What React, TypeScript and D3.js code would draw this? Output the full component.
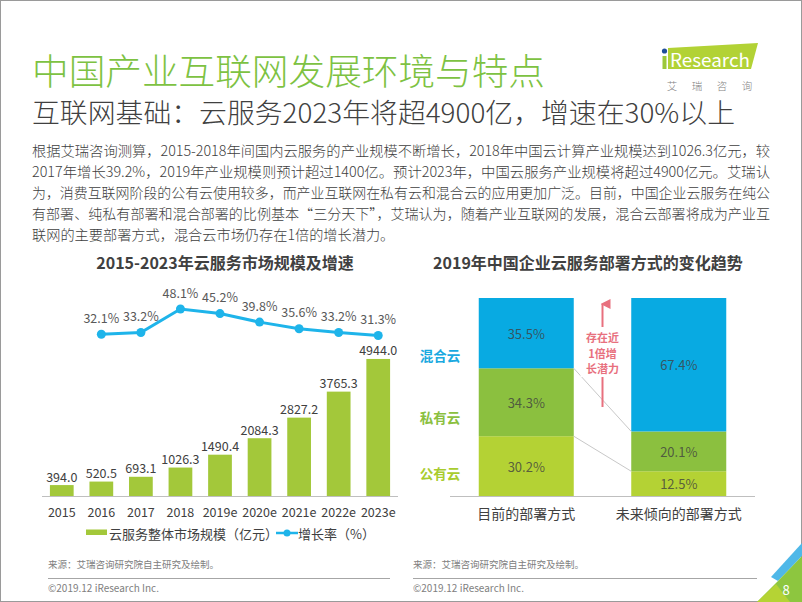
import React from "react";
import * as d3 from "d3";

// ---------- data ----------
const years = ["2015", "2016", "2017", "2018", "2019e", "2020e", "2021e", "2022e", "2023e"];
const marketSize = [394.0, 520.5, 693.1, 1026.3, 1490.4, 2084.3, 2827.2, 3765.3, 4944.0];
const rateYears = ["2016", "2017", "2018", "2019e", "2020e", "2021e", "2022e", "2023e"];
const growthRate = [32.1, 33.2, 48.1, 45.2, 39.8, 35.6, 33.2, 31.3];

const deployCategories = ["目前的部署方式", "未来倾向的部署方式"];
const publicCloud = [30.2, 12.5];
const privateCloud = [34.3, 20.1];
const hybridCloud = [35.5, 67.4];
const seriesNames = ["公有云", "私有云", "混合云"];

const bodyLines = [
  "根据艾瑞咨询测算，2015-2018年间国内云服务的产业规模不断增长，2018年中国云计算产业规模达到1026.3亿元，较",
  "2017年增长39.2%，2019年产业规模则预计超过1400亿。预计2023年，中国云服务产业规模将超过4900亿元。艾瑞认",
  "为，消费互联网阶段的公有云使用较多，而产业互联网在私有云和混合云的应用更加广泛。目前，中国企业云服务在纯公",
  "有部署、纯私有部署和混合部署的比例基本“三分天下”，艾瑞认为，随着产业互联网的发展，混合云部署将成为产业互",
  "联网的主要部署方式，混合云市场仍存在1倍的增长潜力。",
];

// ---------- style ----------
const FONT = "'Noto Sans CJK SC', 'Noto Sans', sans-serif";
const TXT = "#404040";
const BAR = "#A3C83A";
const LINE = "#1EB4EA";
const C_PUB = "#B4D234";
const C_PRI = "#8BC03F";
const C_HYB = "#08AAE2";
const seriesColors = [C_PUB, C_PRI, C_HYB];
const seriesLabelColors = ["#A8CC2E", "#8BC03F", "#1AA9E0"];

export default function App() {
  // left chart scales
  const x = d3.scaleBand<string>().domain(years).range([42, 398]).paddingInner(0.4).paddingOuter(0.2);
  const y = d3.scaleLinear().domain([0, 5000]).range([496, 357.4]);
  const yr = d3.scaleLinear().domain([30, 50]).range([337.6, 306]);
  const cx = (k: string) => (x(k) as number) + x.bandwidth() / 2;
  const rateData = rateYears.map((k, i) => ({ k, v: growthRate[i] }));
  const linePath = d3
    .line<{ k: string; v: number }>()
    .x((d) => cx(d.k))
    .y((d) => yr(d.v))(rateData) as string;

  // right chart scales
  const xb = d3.scaleBand<string>().domain(deployCategories).range([450, 755]).paddingInner(0.377).paddingOuter(0.1885);
  const yb = d3.scaleLinear().domain([0, 100]).range([496, 298]);
  const table = deployCategories.map((c, i) => ({ c, pub: publicCloud[i], pri: privateCloud[i], hyb: hybridCloud[i] }));
  const stack = d3.stack<any>().keys(["pub", "pri", "hyb"])(table);
  const bw = xb.bandwidth();
  const x0 = xb(deployCategories[0]) as number;
  const x1 = xb(deployCategories[1]) as number;
  const arrowX = (x0 + bw + x1) / 2;
  const seriesLabelY = [473, 417, 355];

  return (
    <svg
      width={802}
      height={602}
      style={{ position: "absolute", left: 0, top: 0, fontFamily: FONT }}
    >
      <defs>
        <marker id="ah" viewBox="0 0 10 10" refX="5" refY="2" markerWidth="5" markerHeight="5" orient="auto-start-reverse">
          <path d="M0,10 L5,0 L10,10 Z" fill="#E8707E" />
        </marker>
      </defs>
      <rect x={0} y={0} width={802} height={602} fill="#fff" />
      <rect x={0.5} y={0.5} width={801} height={601} fill="none" stroke="#9a9a9a" />

      {/* header */}
      <text x={32} y={69} fontSize={36} fontWeight={300} fill="#7DC242" dominantBaseline="central" textLength={513} lengthAdjust="spacingAndGlyphs">
        中国产业互联网发展环境与特点
      </text>
      <text x={32} y={111} fontSize={27} fontWeight={300} fill={TXT} dominantBaseline="central" textLength={703} lengthAdjust="spacingAndGlyphs">
        互联网基础：云服务2023年将超4900亿，增速在30%以上
      </text>

      {/* logo */}
      <circle cx={664.5} cy={51} r={2.6} fill="#1F4E99" />
      <rect x={662.5} y={56} width={4} height={13} fill="#9CC83A" />
      <polygon points="668,48 758,43 751,69 668,69" fill="#B2D235" />
      <text x={710} y={59} fontSize={18} fill="#ffffff" textAnchor="middle" dominantBaseline="central" textLength={80} lengthAdjust="spacingAndGlyphs">
        Research
      </text>
      {["艾", "瑞", "咨", "询"].map((c, i) => (
        <text key={c} x={672 + i * 25} y={85} fontSize={10.5} fontWeight={300} fill="#7f7f7f" textAnchor="middle" dominantBaseline="central">
          {c}
        </text>
      ))}

      {/* body text */}
      {bodyLines.map((l, i) => (
        <text
          key={i}
          x={32}
          y={150 + i * 21}
          fontSize={14.2}
          fontWeight={300}
          fill={TXT}
          dominantBaseline="central"
          {...(i < 4 ? { textLength: 738, lengthAdjust: "spacingAndGlyphs" } : {})}
        >
          {l}
        </text>
      ))}

      {/* left chart */}
      <text x={225} y={262} fontSize={16} fontWeight="bold" fill={TXT} textAnchor="middle" dominantBaseline="central">
        2015-2023年云服务市场规模及增速
      </text>
      {years.map((k, i) => (
        <g key={k}>
          <rect x={x(k)} y={y(marketSize[i])} width={x.bandwidth()} height={496 - y(marketSize[i])} fill={BAR} />
          <text x={cx(k)} y={y(marketSize[i]) - 9} fontSize={12.5} fill={TXT} textAnchor="middle" dominantBaseline="central">
            {marketSize[i].toFixed(1)}
          </text>
          <text x={cx(k)} y={511} fontSize={12.5} fill={TXT} textAnchor="middle" dominantBaseline="central">
            {k}
          </text>
        </g>
      ))}
      <line x1={42} x2={398} y1={496.5} y2={496.5} stroke="#BFBFBF" />
      <path d={linePath} fill="none" stroke={LINE} strokeWidth={3} />
      {rateData.map((d) => (
        <g key={d.k}>
          <circle cx={cx(d.k)} cy={yr(d.v)} r={4.5} fill={LINE} />
          <text x={cx(d.k)} y={yr(d.v) - 17} fontSize={12.5} fill="#595959" textAnchor="middle" dominantBaseline="central">
            {d.v.toFixed(1)}%
          </text>
        </g>
      ))}
      {/* legend */}
      <rect x={86} y={529.5} width={21} height={5.5} fill={BAR} />
      <text x={109} y={533} fontSize={13} fill={TXT} dominantBaseline="central">
        云服务整体市场规模（亿元）
      </text>
      <line x1={276} x2={298} y1={533} y2={533} stroke={LINE} strokeWidth={2.5} />
      <circle cx={287} cy={533} r={3.5} fill={LINE} />
      <text x={298} y={533} fontSize={13} fill={TXT} dominantBaseline="central">
        增长率（%）
      </text>

      {/* right chart */}
      <text x={588} y={262} fontSize={16} fontWeight="bold" fill={TXT} textAnchor="middle" dominantBaseline="central">
        2019年中国企业云服务部署方式的变化趋势
      </text>
      {stack.map((s, si) => (
        <g key={s.key}>
          {s.map((d, i) => (
            <g key={i}>
              <rect
                x={xb(deployCategories[i])}
                y={yb(d[1])}
                width={bw}
                height={yb(d[0]) - yb(d[1])}
                fill={seriesColors[si]}
              />
              <text
                x={(xb(deployCategories[i]) as number) + bw / 2}
                y={(yb(d[0]) + yb(d[1])) / 2}
                fontSize={13}
                fill="#404040"
                fillOpacity={0.8}
                textAnchor="middle"
                dominantBaseline="central"
              >
                {(d[1] - d[0]).toFixed(1)}%
              </text>
            </g>
          ))}
        </g>
      ))}
      {/* connectors */}
      {stack.slice(0, 2).map((s) => (
        <line
          key={s.key}
          x1={x0 + bw}
          y1={yb(s[0][1])}
          x2={x1}
          y2={yb(s[1][1])}
          stroke="#C8C8C8"
          strokeWidth={1}
        />
      ))}
      <line x1={450} x2={755} y1={496.5} y2={496.5} stroke="#BFBFBF" />
      {deployCategories.map((c) => (
        <text key={c} x={(xb(c) as number) + bw / 2} y={513} fontSize={14} fill={TXT} textAnchor="middle" dominantBaseline="central">
          {c}
        </text>
      ))}
      {seriesNames.map((n, i) => (
        <text key={n} x={440} y={seriesLabelY[i]} fontSize={13.5} fontWeight="bold" fill={seriesLabelColors[i]} textAnchor="middle" dominantBaseline="central">
          {n}
        </text>
      ))}
      {/* arrow */}
      <line x1={arrowX} x2={arrowX} y1={407} y2={304} stroke="#E8707E" strokeWidth={2} markerEnd="url(#ah)" />
      <rect x={arrowX - 22} y={327} width={44} height={50} fill="#fff" />
      {["存在近", "1倍增", "长潜力"].map((t, i) => (
        <text key={t} x={arrowX} y={337 + i * 15.5} fontSize={11} fontWeight="bold" fill="#E8707E" textAnchor="middle" dominantBaseline="central">
          {t}
        </text>
      ))}

      {/* footers */}
      {[48, 413].map((fx, i) => (
        <g key={fx}>
          <text x={fx} y={564} fontSize={9.5} fill="#808080" dominantBaseline="central">
            来源：艾瑞咨询研究院自主研究及绘制。
          </text>
          <line x1={fx} x2={i === 0 ? 390 : 757} y1={578.5} y2={578.5} stroke="#A6A6A6" />
          <text x={fx} y={587} fontSize={10} fill="#808080" dominantBaseline="central">
            ©2019.12 iResearch Inc.
          </text>
        </g>
      ))}

      {/* corner */}
      <polygon points="802,543 802,556 778,581 771,577" fill="#4FB8E8" />
      <polygon points="802,556 802,602 757,602 778,581" fill="#8DC63F" />
      <polygon points="790,602 757,602 776,584" fill="#B5D334" />
      <text x={786} y={589} fontSize={13} fill="#fff" textAnchor="middle" dominantBaseline="central">
        8
      </text>
    </svg>
  );
}
